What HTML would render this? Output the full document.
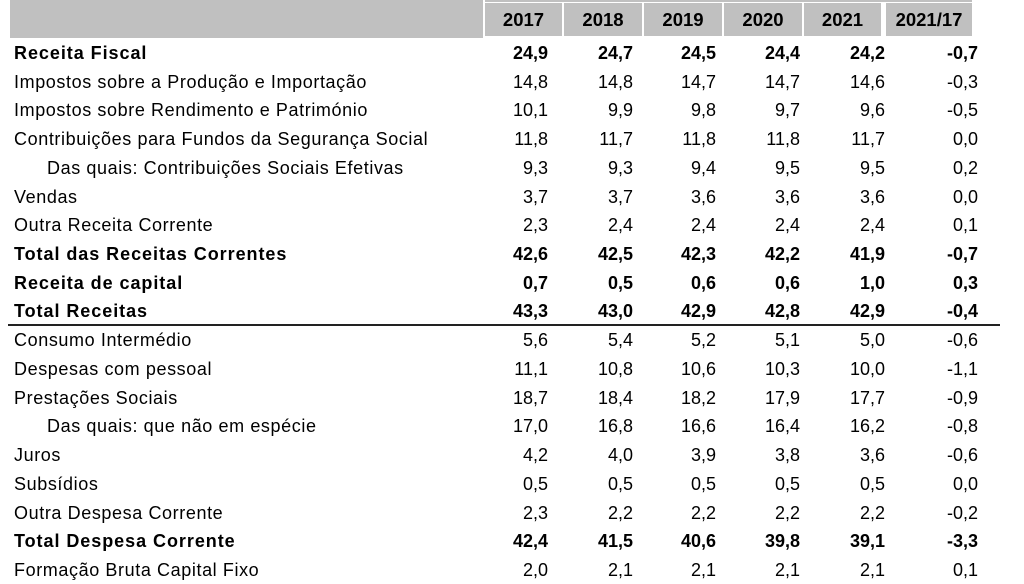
<!DOCTYPE html>
<html><head><meta charset="utf-8"><style>
body{margin:0;width:1024px;height:576px;background:#fff;position:relative;overflow:hidden;font-family:"Liberation Sans",Arial,sans-serif;color:#000}
.g{position:absolute;background:#c0c0c0}
.h{position:absolute;top:3px;height:33px;background:#c0c0c0;font-weight:bold;font-size:18.5px;line-height:33px;text-align:center}
.r{position:absolute;left:0;width:1024px;height:28px;font-size:18px;line-height:28px}
.r span{position:absolute;white-space:nowrap}
.l{left:14px;letter-spacing:0.6px}
.i{left:47px;letter-spacing:0.6px}
.b{font-weight:bold}
.b .l{letter-spacing:0.95px}
.c1{right:476px}.c2{right:391px}.c3{right:308px}.c4{right:224px}.c5{right:139px}.c6{right:46px}
</style></head><body>
<div class="g" style="left:10px;top:0;width:473px;height:38px"></div>
<div class="g" style="left:485px;top:0;width:487px;height:2px"></div>
<div class="h" style="left:485px;width:77px">2017</div>
<div class="h" style="left:564px;width:78px">2018</div>
<div class="h" style="left:644px;width:78px">2019</div>
<div class="h" style="left:724px;width:78px">2020</div>
<div class="h" style="left:804px;width:77px">2021</div>
<div class="h" style="left:886px;width:86px">2021/17</div>
<div style="position:absolute;left:8px;top:324px;width:992px;height:2px;background:#222"></div>
<div id="t"></div>
<script>
var rows=[
["Receita Fiscal","24,9","24,7","24,5","24,4","24,2","-0,7",1,0],
["Impostos sobre a Produção e Importação","14,8","14,8","14,7","14,7","14,6","-0,3",0,0],
["Impostos sobre Rendimento e Património","10,1","9,9","9,8","9,7","9,6","-0,5",0,0],
["Contribuições para Fundos da Segurança Social","11,8","11,7","11,8","11,8","11,7","0,0",0,0],
["Das quais: Contribuições Sociais Efetivas","9,3","9,3","9,4","9,5","9,5","0,2",0,1],
["Vendas","3,7","3,7","3,6","3,6","3,6","0,0",0,0],
["Outra Receita Corrente","2,3","2,4","2,4","2,4","2,4","0,1",0,0],
["Total das Receitas Correntes","42,6","42,5","42,3","42,2","41,9","-0,7",1,0],
["Receita de capital","0,7","0,5","0,6","0,6","1,0","0,3",1,0],
["Total Receitas","43,3","43,0","42,9","42,8","42,9","-0,4",1,0],
["Consumo Intermédio","5,6","5,4","5,2","5,1","5,0","-0,6",0,0],
["Despesas com pessoal","11,1","10,8","10,6","10,3","10,0","-1,1",0,0],
["Prestações Sociais","18,7","18,4","18,2","17,9","17,7","-0,9",0,0],
["Das quais: que não em espécie","17,0","16,8","16,6","16,4","16,2","-0,8",0,1],
["Juros","4,2","4,0","3,9","3,8","3,6","-0,6",0,0],
["Subsídios","0,5","0,5","0,5","0,5","0,5","0,0",0,0],
["Outra Despesa Corrente","2,3","2,2","2,2","2,2","2,2","-0,2",0,0],
["Total Despesa Corrente","42,4","41,5","40,6","39,8","39,1","-3,3",1,0],
["Formação Bruta Capital Fixo","2,0","2,1","2,1","2,1","2,1","0,1",0,0]];
var h="";
rows.forEach(function(r,k){
 var top=Math.round(39+28.72*k);
 h+='<div class="r'+(r[7]?' b':'')+'" style="top:'+top+'px"><span class="'+(r[8]?'i':'l')+'">'+r[0]+'</span>';
 for(var j=1;j<=6;j++)h+='<span class="c'+j+'">'+r[j]+'</span>';
 h+='</div>';
});
document.getElementById('t').innerHTML=h;
</script>
</body></html>
